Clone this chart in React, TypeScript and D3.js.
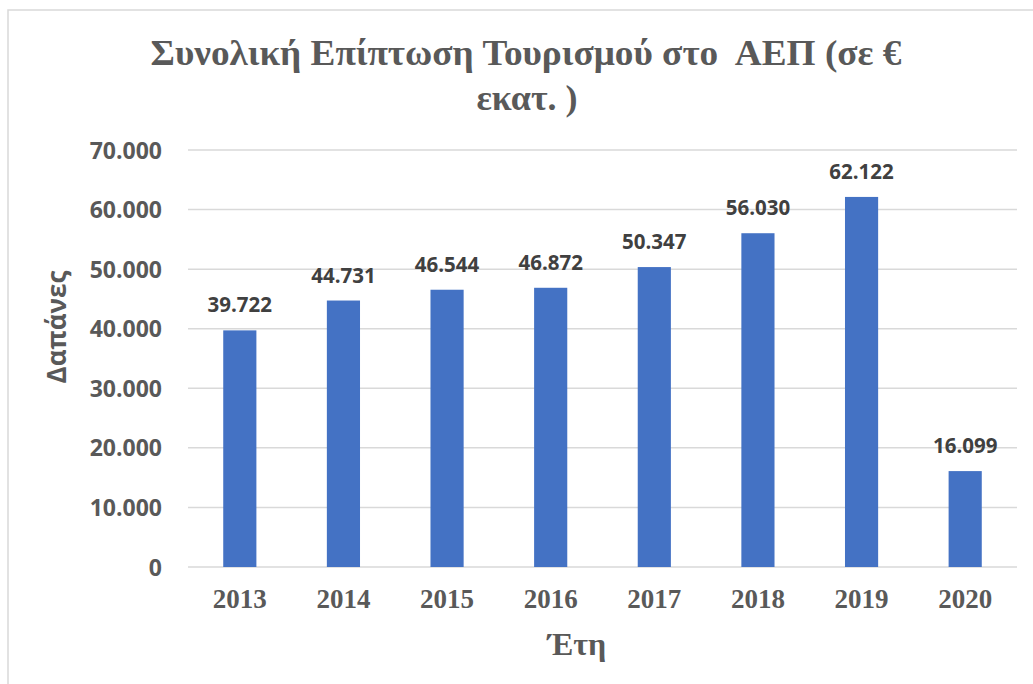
import React from "react";
import * as d3 from "d3";

const years = ["2013", "2014", "2015", "2016", "2017", "2018", "2019", "2020"];
const values = [39722, 44731, 46544, 46872, 50347, 56030, 62122, 16099];
const yTicks = [0, 10000, 20000, 30000, 40000, 50000, 60000, 70000];
const titleLines = ["Συνολική Επίπτωση Τουρισμού στο  ΑΕΠ (σε €", "εκατ. )"];
const xTitle = "Έτη";
const yTitle = "Δαπάνες";

const W = 1033;
const H = 684;
const plot = { left: 188, right: 1017, top: 150, bottom: 567 };

const fmt = (v: number) => {
  if (v === 0) return "0";
  const s = d3.format(",")(v);
  return s.replace(/,/g, ".");
};
const fmtLabel = (v: number) => d3.format(",")(v).replace(/,/g, ".");

export default function App() {
  const x = d3
    .scaleBand<string>()
    .domain(years)
    .range([plot.left, plot.right])
    .paddingInner(0.68)
    .paddingOuter(0.34);
  const y = d3.scaleLinear().domain([0, 70000]).range([plot.bottom, plot.top]);

  const sans = "'Open Sans', 'Noto Sans', sans-serif";
  const serif = "'Liberation Serif', 'DejaVu Serif', serif";

  return (
    <svg
      width={W}
      height={H}
      style={{ position: "absolute", left: 0, top: 0, background: "#fff" }}
    >
      <rect x={8} y={10} width={1060} height={700} fill="#fff" stroke="#D9D9D9" strokeWidth={1.5} />
      {/* title */}
      <text
        x={526}
        y={65}
        textAnchor="middle"
        fontFamily={serif}
        fontWeight="bold"
        fontSize={36}
        fill="#595959"
        textLength={751}
        lengthAdjust="spacingAndGlyphs"
        style={{ whiteSpace: "pre" }}
      >
        {titleLines[0]}
      </text>
      <text
        x={527}
        y={110}
        textAnchor="middle"
        fontFamily={serif}
        fontWeight="bold"
        fontSize={36}
        fill="#595959"
      >
        {titleLines[1]}
      </text>

      {/* gridlines */}
      {yTicks.map((t) => (
        <line
          key={t}
          x1={plot.left}
          x2={plot.right}
          y1={y(t)}
          y2={y(t)}
          stroke="#D9D9D9"
          strokeWidth={1.5}
        />
      ))}

      {/* y tick labels */}
      {yTicks.map((t) => (
        <text
          key={"l" + t}
          x={162}
          y={y(t) + 8.5}
          textAnchor="end"
          fontFamily={sans}
          fontWeight="bold"
          fontSize={23}
          fill="#595959"
        >
          {fmt(t)}
        </text>
      ))}

      {/* bars */}
      {years.map((yr, i) => (
        <rect
          key={yr}
          x={x(yr)}
          y={y(values[i])}
          width={x.bandwidth()}
          height={plot.bottom - y(values[i])}
          fill="#4472C4"
        />
      ))}

      {/* data labels */}
      {years.map((yr, i) => (
        <text
          key={"d" + yr}
          x={(x(yr) as number) + x.bandwidth() / 2}
          y={y(values[i]) - 18}
          textAnchor="middle"
          fontFamily={sans}
          fontWeight="bold"
          fontSize={20.5}
          fill="#404040"
        >
          {fmtLabel(values[i])}
        </text>
      ))}

      {/* x tick labels */}
      {years.map((yr) => (
        <text
          key={"x" + yr}
          x={(x(yr) as number) + x.bandwidth() / 2}
          y={608}
          textAnchor="middle"
          fontFamily={serif}
          fontWeight="bold"
          fontSize={27}
          fill="#595959"
        >
          {yr}
        </text>
      ))}

      {/* axis titles */}
      <text
        x={577}
        y={655}
        textAnchor="middle"
        fontFamily={serif}
        fontWeight="bold"
        fontSize={32}
        fill="#595959"
      >
        {xTitle}
      </text>
      <text
        transform={`translate(66, 327) rotate(-90)`}
        textAnchor="middle"
        fontFamily={sans}
        fontWeight="bold"
        fontSize={26}
        fill="#595959"
      >
        {yTitle}
      </text>
    </svg>
  );
}
